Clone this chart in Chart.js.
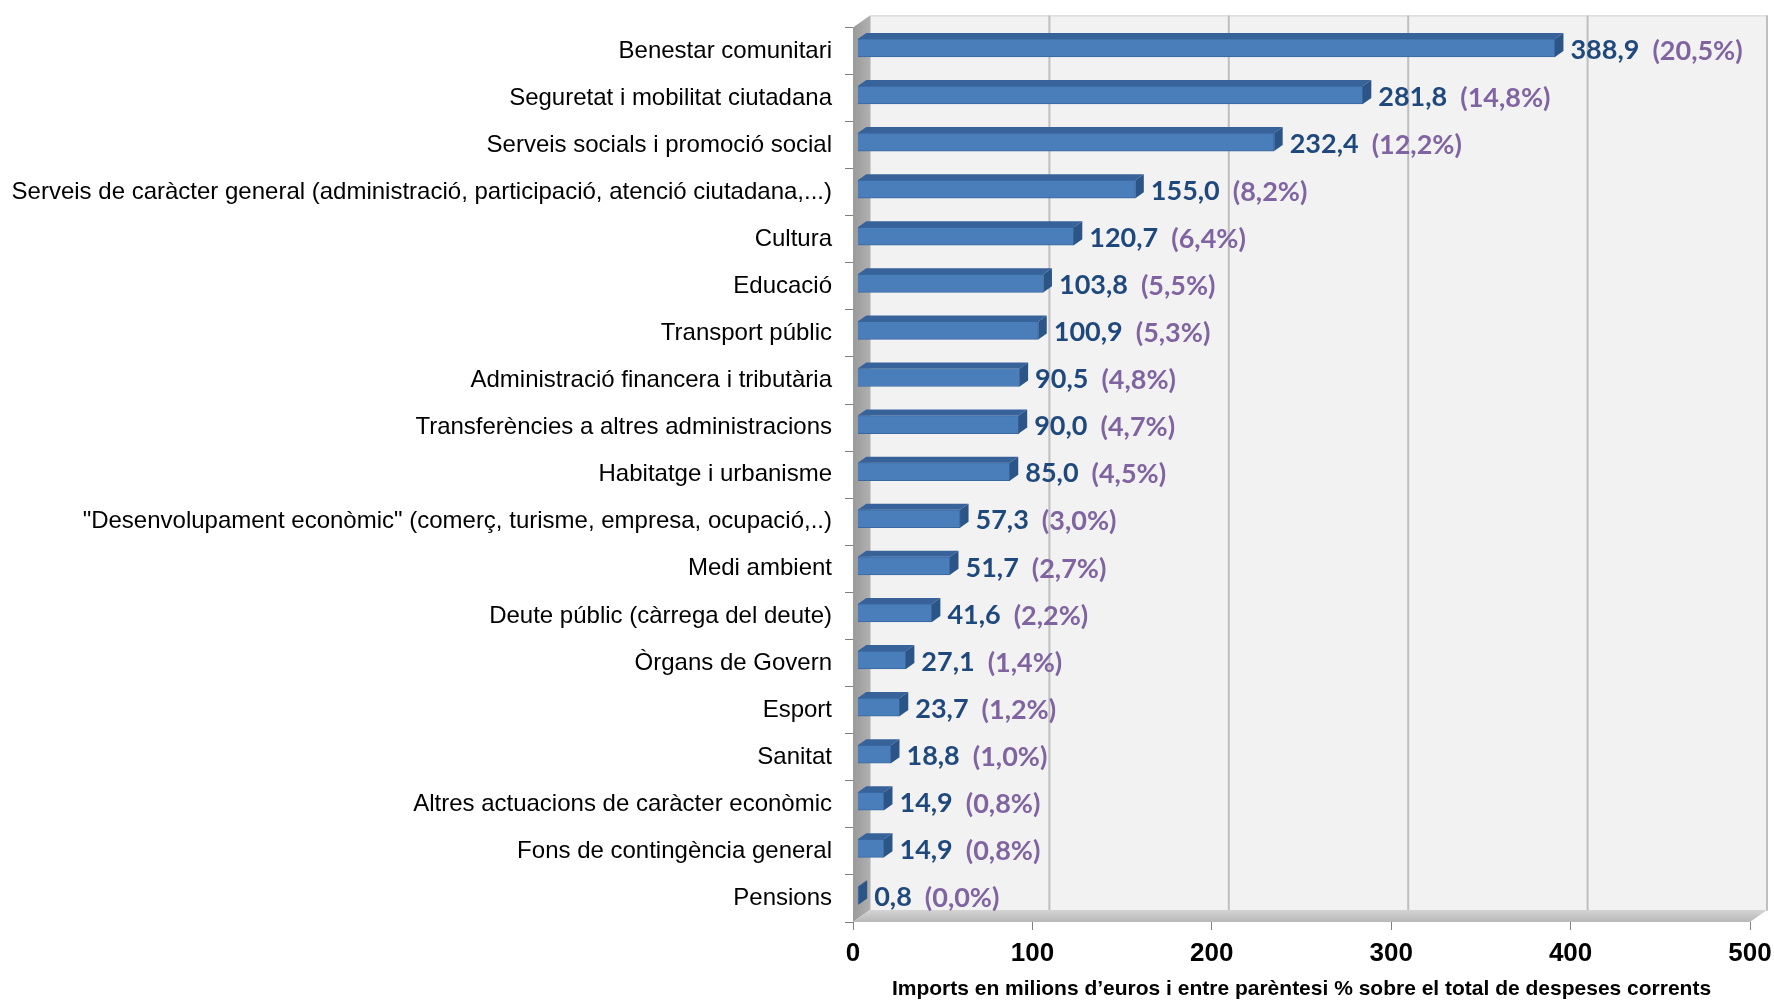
<!DOCTYPE html>
<html>
<head>
<meta charset="utf-8">
<script src="https://cdn.jsdelivr.net/npm/chart.js@4/dist/chart.umd.min.js"></script>
<style>
html,body{margin:0;padding:0;background:#fff;}
#wrap{width:1774px;height:1000px;}
</style>
</head>
<body>
<div id="wrap"><canvas id="c" width="1774" height="1000"></canvas></div>
<script>
const categories = [
  "Benestar comunitari",
  "Seguretat i mobilitat ciutadana",
  "Serveis socials i promoció social",
  "Serveis de caràcter general (administració, participació, atenció ciutadana,...)",
  "Cultura",
  "Educació",
  "Transport públic",
  "Administració financera i tributària",
  "Transferències a altres administracions",
  "Habitatge i urbanisme",
  "\"Desenvolupament econòmic\" (comerç, turisme, empresa, ocupació,..)",
  "Medi ambient",
  "Deute públic (càrrega del deute)",
  "Òrgans de Govern",
  "Esport",
  "Sanitat",
  "Altres actuacions de caràcter econòmic",
  "Fons de contingència general",
  "Pensions"
];
const amounts = [388.9, 281.8, 232.4, 155.0, 120.7, 103.8, 100.9, 90.5, 90.0, 85.0, 57.3, 51.7, 41.6, 27.1, 23.7, 18.8, 14.9, 14.9, 0.8];
const percents = [20.5, 14.8, 12.2, 8.2, 6.4, 5.5, 5.3, 4.8, 4.7, 4.5, 3.0, 2.7, 2.2, 1.4, 1.2, 1.0, 0.8, 0.8, 0.0];
const xTicks = [0, 100, 200, 300, 400, 500];
const axisTitle = "Imports en milions d\u2019euros i entre parèntesi % sobre el total de despeses corrents";

const DX = 17, DY = -12;          // depth of the 3D box
const FX = 4.25, FY = -3;         // bar front plane shift
const BX = 8.5, BY = -6;          // bar depth

const fmt = v => v.toFixed(1).replace('.', ',');

const box3d = {
  id: 'box3d',
  beforeDatasetsDraw(chart) {
    const {ctx, chartArea: a, scales: {x}} = chart;
    ctx.save();
    // back wall
    ctx.fillStyle = '#f2f2f2';
    ctx.fillRect(a.left + DX, a.top + DY, a.right - a.left, a.bottom - a.top);
    ctx.strokeStyle = '#d0d0d0';
    ctx.lineWidth = 1;
    ctx.strokeRect(a.left + DX + 0.5, a.top + DY + 0.5, a.right - a.left, a.bottom - a.top);
    // gridlines on back wall
    ctx.strokeStyle = '#bfbfbf';
    ctx.lineWidth = 2;
    xTicks.forEach(v => {
      if (v === 0) return;
      const px = x.getPixelForValue(v) + DX;
      ctx.beginPath();
      ctx.moveTo(px, a.top + DY);
      ctx.lineTo(px, a.bottom + DY);
      ctx.stroke();
    });
    // left wall
    const lg = ctx.createLinearGradient(a.left, 0, a.left + DX, 0);
    lg.addColorStop(0, '#9a9a9a');
    lg.addColorStop(1, '#b0b0b0');
    ctx.fillStyle = lg;
    ctx.beginPath();
    ctx.moveTo(a.left, a.top);
    ctx.lineTo(a.left + DX, a.top + DY);
    ctx.lineTo(a.left + DX, a.bottom + DY);
    ctx.lineTo(a.left, a.bottom);
    ctx.closePath();
    ctx.fill();
    // floor
    const fg = ctx.createLinearGradient(0, a.bottom + DY, 0, a.bottom);
    fg.addColorStop(0, '#d4d4d4');
    fg.addColorStop(1, '#b8b8b8');
    ctx.fillStyle = fg;
    ctx.beginPath();
    ctx.moveTo(a.left, a.bottom);
    ctx.lineTo(a.left + DX, a.bottom + DY);
    ctx.lineTo(a.right + DX, a.bottom + DY);
    ctx.lineTo(a.right, a.bottom);
    ctx.closePath();
    ctx.fill();
    ctx.restore();
  },
  beforeDatasetDraw(chart) {
    chart.ctx.save();
    chart.ctx.translate(FX, FY);
  },
  afterDatasetDraw(chart, args) {
    const ctx = chart.ctx;
    args.meta.data.forEach(el => {
      const p = el.getProps(['x', 'y', 'base', 'height'], true);
      const t = p.y - p.height / 2, b = p.y + p.height / 2;
      // top face
      ctx.fillStyle = '#37639a';
      ctx.beginPath();
      ctx.moveTo(p.base, t);
      ctx.lineTo(p.base + BX, t + BY);
      ctx.lineTo(p.x + BX, t + BY);
      ctx.lineTo(p.x, t);
      ctx.closePath();
      ctx.fill();
      // side face
      ctx.fillStyle = '#2c5587';
      ctx.beginPath();
      ctx.moveTo(p.x, t);
      ctx.lineTo(p.x + BX, t + BY);
      ctx.lineTo(p.x + BX, b + BY);
      ctx.lineTo(p.x, b);
      ctx.closePath();
      ctx.fill();
    });
    ctx.restore();
  },
  afterDatasetsDraw(chart) {
    const ctx = chart.ctx;
    const meta = chart.getDatasetMeta(0);
    ctx.save();
    ctx.font = 'bold 27px Lato';
    ctx.textBaseline = 'middle';
    ctx.textAlign = 'left';
    meta.data.forEach((el, i) => {
      const p = el.getProps(['x', 'y'], true);
      const lx = p.x + FX + BX + 7;
      const ly = p.y - 1;
      const vt = fmt(amounts[i]);
      ctx.fillStyle = '#1f497d';
      ctx.fillText(vt, lx, ly);
      const w = ctx.measureText(vt).width;
      ctx.fillStyle = '#8064a2';
      ctx.fillText('(' + fmt(percents[i]) + '%)', lx + w + 13, ly + 1);
    });
    ctx.restore();
  }
};

new Chart(document.getElementById('c'), {
  type: 'bar',
  data: {
    labels: categories,
    datasets: [{
      data: amounts,
      backgroundColor: '#4a7ebb',
      borderColor: '#3a679f',
      borderWidth: 1,
      barThickness: 18
    }]
  },
  options: {
    indexAxis: 'y',
    responsive: false,
    animation: false,
    layout: { padding: { top: 22, right: 24, left: 0, bottom: 0 } },
    plugins: { legend: { display: false }, tooltip: { enabled: false } },
    scales: {
      x: {
        min: 0, max: 500,
        afterFit(s) { s.height = 78; s.paddingLeft = 0; s.paddingRight = 0; },
        afterBuildTicks(s) { s.ticks = xTicks.map(v => ({ value: v })); },
        grid: { drawOnChartArea: false, drawTicks: true, tickLength: 8, color: '#7f7f7f', lineWidth: 1 },
        border: { display: false },
        ticks: { color: '#000', font: { family: 'Liberation Sans', size: 26, weight: 'bold' }, padding: 8 },
        title: { display: true, text: axisTitle, color: '#000', font: { family: 'Liberation Sans', size: 21, weight: 'bold', lineHeight: 1.0 }, padding: { top: 0, bottom: 0 } }
      },
      y: {
        afterFit(s) { s.width = 853; },
        grid: { drawOnChartArea: false, drawTicks: true, tickLength: 8, color: '#7f7f7f', lineWidth: 1 },
        border: { display: false },
        ticks: { color: '#000', font: { family: 'Liberation Sans', size: 24 }, padding: 13, autoSkip: false }
      }
    }
  },
  plugins: [box3d]
});
</script>
</body>
</html>
